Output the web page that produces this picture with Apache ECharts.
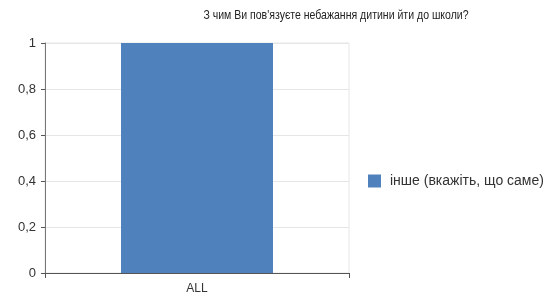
<!DOCTYPE html>
<html>
<head>
<meta charset="utf-8">
<script src="https://cdn.jsdelivr.net/npm/echarts@6/dist/echarts.min.js"></script>
<style>
  html, body { margin: 0; padding: 0; background: #fff; }
  #chart { width: 551px; height: 304px; }
</style>
</head>
<body>
<div id="chart"></div>
<script>
const titleText = 'З чим Ви пов\'язуєте небажання дитини йти до школи?'
const categories = ['ALL']
const seriesName = 'інше (вкажіть, що саме)'
const values = [1]

const tx = '#333'
const axisCol = '#777'
const gridCol = '#e6e6e6'
const sans = 'Liberation Sans, Arial, sans-serif'

const chart = echarts.init(document.getElementById('chart'))
chart.setOption({
  animation: false,
  textStyle: { fontFamily: sans },
  // title drawn as graphic text so it can be condensed like the original
  graphic: [{
    type: 'text', x: 336, y: 9, scaleX: 0.81, originX: 0,
    style: { text: titleText, fontSize: 13, fill: '#222', fontFamily: sans, align: 'center', verticalAlign: 'top' },
  }],
  legend: {
    data: [seriesName], orient: 'vertical', left: 363, top: 169,
    itemWidth: 13, itemHeight: 13, icon: 'rect',
    textStyle: { fontSize: 14, color: tx, padding: [0, 0, 0, 4] },
  },
  grid: { left: 45, right: 202, top: 43, bottom: 31, show: true, borderColor: gridCol, borderWidth: 1 },
  xAxis: {
    type: 'category', data: categories,
    axisLine: { lineStyle: { color: '#555' } },
    axisTick: { show: true, alignWithLabel: false, length: 5, lineStyle: { color: '#555' } },
    axisLabel: { color: tx, fontSize: 12, margin: 10 },
  },
  yAxis: {
    type: 'value', min: 0, max: 1, interval: 0.2,
    axisLine: { show: true, lineStyle: { color: axisCol } },
    axisTick: { show: true, length: 4, lineStyle: { color: '#555' } },
    axisLabel: { color: tx, fontSize: 13, margin: 9, formatter: v => String(+v.toFixed(1)).replace('.', ',') },
    splitLine: { lineStyle: { color: gridCol } },
  },
  series: [{
    name: seriesName, type: 'bar', data: values, barWidth: '50%',
    itemStyle: { color: '#4f81bd' },
  }],
})
</script>
</body>
</html>
